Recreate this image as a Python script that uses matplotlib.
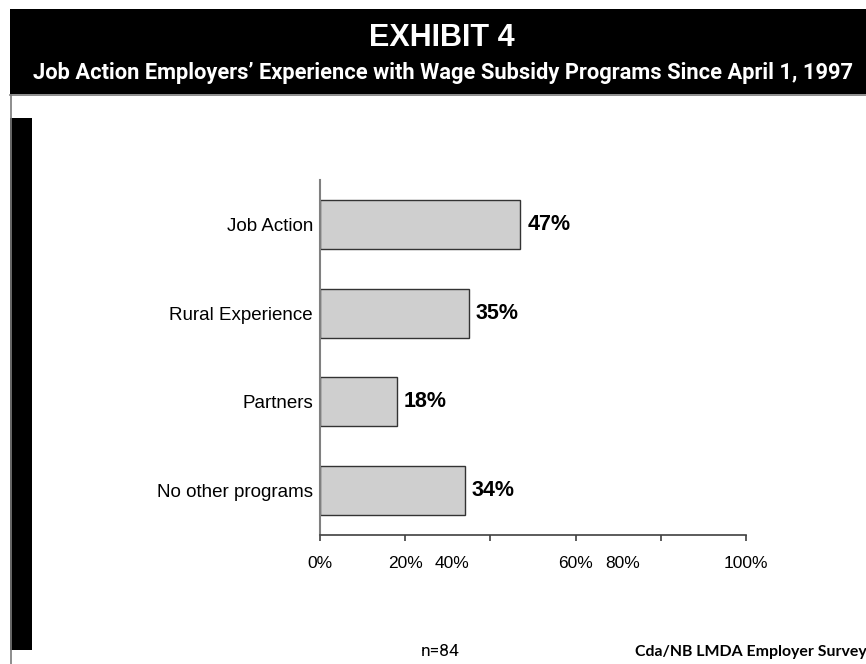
import matplotlib
matplotlib.use("Agg")
import matplotlib.pyplot as plt
from matplotlib import font_manager
from matplotlib.patches import Rectangle
from matplotlib.lines import Line2D

# Data
categories = ["Job Action", "Rural Experience", "Partners", "No other programs"]
shares = [47, 35, 18, 34]
tick_values = [0, 20, 40, 60, 80, 100]
tick_label_values = [0, 20, 31, 60, 71, 100]
tick_labels = ["0%", "20%", "40%", "60%", "80%", "100%"]
title = "EXHIBIT 4"
subtitle = "Job Action Employers\u2019 Experience with Wage Subsidy Programs Since April 1, 1997"
sample_note = "n=84"
source_note = "Cda/NB LMDA Employer Survey"

W, H = 866, 664
DPI = 100

installed = {f.name for f in font_manager.fontManager.ttflist}
narrow = "Liberation Sans Narrow" if "Liberation Sans Narrow" in installed else "Roboto"
plt.rcParams["font.family"] = ["Liberation Sans", "DejaVu Sans"]

fig = plt.figure(figsize=(W / DPI, H / DPI), dpi=DPI)
fig.patch.set_facecolor("white")


def px_box(x0, y0, x1, y1):
    """Pixel box (top-left origin) to figure fraction rect."""
    return (x0 / W, 1 - y1 / H, (x1 - x0) / W, (y1 - y0) / H)


def add_block(x0, y0, x1, y1):
    r = px_box(x0, y0, x1, y1)
    fig.patches.append(Rectangle(r[:2], r[2], r[3], transform=fig.transFigure,
                                 facecolor="black", edgecolor="none", zorder=0))


# Header band and left black bar
add_block(10, 9, W, 94)
add_block(10, 118, 31.5, 650)
# Frame lines under the header and down the left side
fig.lines.append(Line2D([10 / W, 1], [1 - 94.5 / H, 1 - 94.5 / H], transform=fig.transFigure,
                        color="#7a7a7a", lw=1.2))
fig.lines.append(Line2D([11 / W, 11 / W], [1 - 94.5 / H, 0], transform=fig.transFigure,
                        color="#7a7a7a", lw=1.2))

fig.text(442 / W, 1 - 38 / H, title, color="white", fontsize=22, fontweight="bold",
         ha="center", va="center")
sub = fig.text(443 / W, 1 - 73.5 / H, subtitle, color="white", fontsize=16,
               fontweight="bold", family=[narrow, "DejaVu Sans"], ha="center", va="center")
# size the subtitle so it spans the header
renderer = fig.canvas.get_renderer()
wpx = sub.get_window_extent(renderer).width
sub.set_fontsize(16 * 822 / wpx)

# Chart axes
ax = fig.add_axes(px_box(320, 180, 746, 535))
y = list(range(len(categories)))
ax.barh(y, shares, height=0.55, color="#cfcfcf", edgecolor="#333333", linewidth=1.0, zorder=2)
ax.set_ylim(len(categories) - 0.5, -0.5)
ax.set_xlim(0, 100)

for yi, v in zip(y, shares):
    ax.annotate(f"{v}%", xy=(v, yi), xytext=(5, 0), textcoords="offset points",
                ha="left", va="center", fontsize=15.5, fontweight="bold", color="black")

ax.set_yticks(y)
ax.set_yticklabels(categories, fontsize=13.5)
ax.tick_params(axis="y", length=0, pad=5)

# tick marks on the major locator, labels carried by minor ticks
ax.xaxis.remove_overlapping_locs = False
ax.set_xticks(tick_values)
ax.set_xticklabels([""] * len(tick_values))
ax.tick_params(axis="x", which="major", direction="out", length=4.5, width=1.2, color="#404040")
ax.set_xticks(tick_label_values, minor=True)
ax.set_xticklabels(tick_labels, minor=True, fontsize=12.5)
ax.tick_params(axis="x", which="minor", length=0, pad=15)

for s in ("top", "right"):
    ax.spines[s].set_visible(False)
ax.spines["left"].set_color("#808080")
ax.spines["left"].set_linewidth(1.5)
ax.spines["bottom"].set_color("#404040")
ax.spines["bottom"].set_linewidth(1.2)
ax.set_facecolor("none")

# Footer notes
fig.text(440 / W, 1 - 652 / H, sample_note, fontsize=12.5, family=["Roboto", "DejaVu Sans"],
         ha="center", va="center")
fig.text(1.001, 1 - 652 / H, source_note, fontsize=11.4, fontweight="bold",
         family=["Lato", "DejaVu Sans"], ha="right", va="center")

fig.savefig("out.png", dpi=DPI)
